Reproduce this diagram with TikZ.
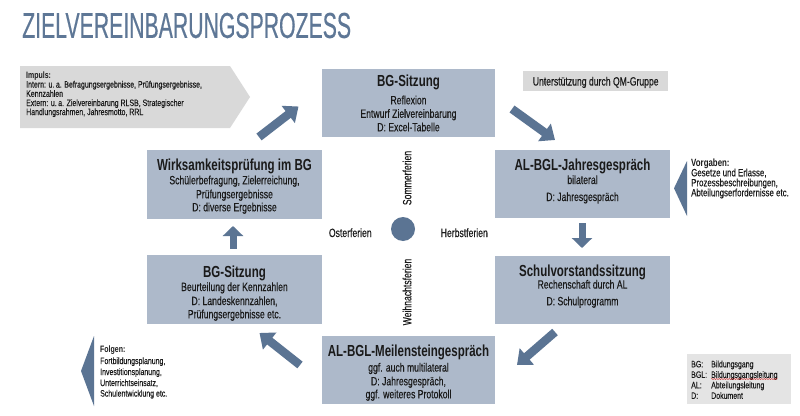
\documentclass[tikz,border=0pt]{standalone}
\usepackage{fontspec}
\setmainfont{Liberation Sans}
\newfontfamily\cf[FakeStretch=0.72]{Liberation Sans}
\newfontfamily\cfr[FakeStretch=0.72,FakeBold=0.3]{Liberation Sans}
\newfontfamily\smf[FakeStretch=0.75,FakeBold=0.2]{Liberation Sans}
\newfontfamily\smfb[FakeStretch=0.75]{Liberation Sans}
\newfontfamily\bigf[FakeStretch=0.59,FakeBold=0.4]{Liberation Sans}
\usetikzlibrary{arrows.meta,decorations.pathmorphing}
\definecolor{boxc}{HTML}{ADB9CA}
\definecolor{arrc}{HTML}{5B7493}
\definecolor{titc}{HTML}{5E7796}
\definecolor{grayc}{HTML}{D9D9D9}
\definecolor{legc}{HTML}{E4E4E4}
\definecolor{txtc}{HTML}{1A1A1A}
\tikzset{
  boxst/.style={fill=boxc, draw=none, anchor=north west, inner sep=0pt},
  ttl/.style={font=\cf\bfseries\fontsize{16}{18}\selectfont, text=txtc, text height=11.5pt, text depth=0pt, inner sep=0pt},
  sub/.style={font=\cfr\fontsize{12}{14}\selectfont, text=txtc, text height=8.6pt, text depth=0pt, inner sep=0pt},
  sml/.style={font=\smf\fontsize{9.3}{10}\selectfont, text=txtc, text height=6.65pt, text depth=0pt, inner sep=0pt, anchor=west},
  smlb/.style={sml, font=\smfb\bfseries\fontsize{9.3}{10}\selectfont},
  vgl/.style={font=\smf\fontsize{10.5}{11}\selectfont, text=txtc, text height=7.5pt, text depth=0pt, inner sep=0pt, anchor=west},
  vglb/.style={vgl, font=\smfb\bfseries\fontsize{10.5}{11}\selectfont},
  blk/.style={draw=arrc, line width=8.5pt, -{Triangle[width=21pt,length=13pt]}},
  blkv/.style={draw=arrc, line width=7pt, -{Triangle[width=20pt,length=10pt]}},
}
\begin{document}
\begin{tikzpicture}[x=1pt,y=-1pt]
\useasboundingbox (0,0) rectangle (800,415);
\fill[white] (0,0) rectangle (800,415);

% title
\node[font=\bigf\fontsize{36}{40}\selectfont, text=titc, text height=25.8pt, text depth=0pt, inner sep=0pt, anchor=west] (title) at (22,25) {ZIELVEREINBARUNGSPROZESS};

% Impuls
\path[fill=grayc] (20,66) -- (230,66) -- (250,97) -- (230,128) -- (20,128) -- cycle;
\node[smlb] (imp0) at (26,75) {Impuls:};
\node[sml] (imp1) at (26,84.3) {Intern: u.\,a. Befragungsergebnisse, Prüfungsergebnisse,};
\node[sml] (imp2) at (26,93.5) {Kennzahlen};
\node[sml] (imp3) at (26,102.7) {Extern: u.\,a. Zielvereinbarung RLSB, Strategischer};
\node[sml] (imp4) at (26,111.8) {Handlungsrahmen, Jahresmotto, RRL};

% QM
\node[fill=grayc, anchor=north west, minimum width=145pt, minimum height=20pt, inner sep=0pt] (qm) at (523,71) {};
\node[sub] (qmt) at (qm.center) {Unterstützung durch QM-Gruppe};

% boxes
\node[boxst, minimum width=173pt, minimum height=68pt] (b1) at (322,69) {};
\node[boxst, minimum width=175pt, minimum height=69pt] (b2) at (147,150) {};
\node[boxst, minimum width=175pt, minimum height=68pt] (b3) at (495,150) {};
\node[boxst, minimum width=175pt, minimum height=68pt] (b4) at (495,256) {};
\node[boxst, minimum width=173pt, minimum height=68pt] (b5) at (322,336) {};
\node[boxst, minimum width=175pt, minimum height=69pt] (b6) at (147,255) {};

% box texts
\node[ttl] (b1t) at (408.5,81) {BG-Sitzung};
\node[sub] (b1a) at (408.5,100) {Reflexion};
\node[sub] (b1b) at (408.5,113.5) {Entwurf Zielvereinbarung};
\node[sub] (b1c) at (408.5,127) {D: Excel-Tabelle};

\node[ttl] (b2t) at (234.5,164.3) {Wirksamkeitsprüfung im BG};
\node[sub] (b2a) at (234.5,180) {Schülerbefragung, Zielerreichung,};
\node[sub] (b2b) at (234.5,194) {Prüfungsergebnisse};
\node[sub] (b2c) at (234.5,207) {D: diverse Ergebnisse};

\node[ttl] (b3t) at (582.5,165) {AL-BGL-Jahresgespräch};
\node[sub] (b3a) at (582.5,179.7) {bilateral};
\node[sub] (b3b) at (582.5,196.7) {D: Jahresgespräch};

\node[ttl] (b4t) at (582.5,271) {Schulvorstandssitzung};
\node[sub] (b4a) at (582.5,284.3) {Rechenschaft durch AL};
\node[sub] (b4b) at (582.5,301) {D: Schulprogramm};

\node[ttl] (b5t) at (408.5,350.5) {AL-BGL-Meilensteingespräch};
\node[sub] (b5a) at (408.5,367.3) {ggf. auch multilateral};
\node[sub] (b5b) at (408.5,381) {D: Jahresgespräch,};
\node[sub] (b5c) at (408.5,394) {ggf. weiteres Protokoll};

\node[ttl] (b6t) at (234.5,271.7) {BG-Sitzung};
\node[sub] (b6a) at (234.5,286.7) {Beurteilung der Kennzahlen};
\node[sub] (b6b) at (234.5,300.7) {D: Landeskennzahlen,};
\node[sub] (b6c) at (234.5,314) {Prüfungsergebnisse etc.};

% centre
\node[circle, fill=arrc, minimum size=24pt, inner sep=0pt] (ctr) at (403,229) {};
\node[sub, rotate=90] (som) at (407,178) {Sommerferien};
\node[sub, rotate=90] (wei) at (407,292) {Weihnachtsferien};
\node[sub] (ost) at (350.3,232.7) {Osterferien};
\node[sub] (her) at (464.3,232.7) {Herbstferien};

% arrows
\coordinate (a1s) at (259,137);
\coordinate (a1e) at (298.5,106.5);
\coordinate (a2s) at (512,109);
\coordinate (a2e) at (555,140);
\coordinate (a3s) at (582,223);
\coordinate (a3e) at (582,248);
\coordinate (a4s) at (555,332);
\coordinate (a4e) at (517,365);
\coordinate (a5s) at (300,365);
\coordinate (a5e) at (259.5,333);
\coordinate (a6s) at (233,248.5);
\coordinate (a6e) at (233,226);
\draw[blk] (a1s) -- (a1e);
\draw[blk] (a2s) -- (a2e);
\draw[blkv] (a3s) -- (a3e);
\draw[blk] (a4s) -- (a4e);
\draw[blk] (a5s) -- (a5e);
\draw[blkv] (a6s) -- (a6e);

% Vorgaben
\path[fill=arrc] (674,188.3) -- (687,161) -- (687,216) -- cycle;
\node[vglb] (vg0) at (691,162.7) {Vorgaben:};
\node[vgl] (vg1) at (691,172.5) {Gesetze und Erlasse,};
\node[vgl] (vg2) at (691,182.5) {Prozessbeschreibungen,};
\node[vgl] (vg3) at (691,192.5) {Abteilungserfordernisse etc.};

% Folgen
\path[fill=arrc] (81,371) -- (94,336) -- (94,406) -- cycle;
\node[smlb] (fo0) at (100,349.3) {Folgen:};
\node[sml] (fo1) at (100,360.7) {Fortbildungsplanung,};
\node[sml] (fo2) at (100,371.7) {Investitionsplanung,};
\node[sml] (fo3) at (100,382.7) {Unterrichtseinsatz,};
\node[sml] (fo4) at (100,393.3) {Schulentwicklung etc.};

% legend
\node[fill=legc, anchor=north west, minimum width=104pt, minimum height=50pt, inner sep=0pt] (leg) at (687,354) {};
\node[sml] (l1a) at (691,364) {BG:};
\node[sml] (l1b) at (711,364) {Bildungsgang};
\node[sml] (l2a) at (691,374.5) {BGL:};
\node[sml] (l2b) at (711,374.5) {Bildungsgangsleitung};
\node[sml] (l3a) at (691,385) {AL:};
\node[sml] (l3b) at (711,385) {Abteilungsleitung};
\node[sml] (l4a) at (691,395.5) {D:};
\node[sml] (l4b) at (711,395.5) {Dokument};
\draw[red!80!black, line width=0.4pt, decorate, decoration={snake, amplitude=0.45pt, segment length=2.5pt}] ([yshift=-1pt]l2b.south west) -- ([yshift=-1pt]l2b.south east);
\end{tikzpicture}
\end{document}
